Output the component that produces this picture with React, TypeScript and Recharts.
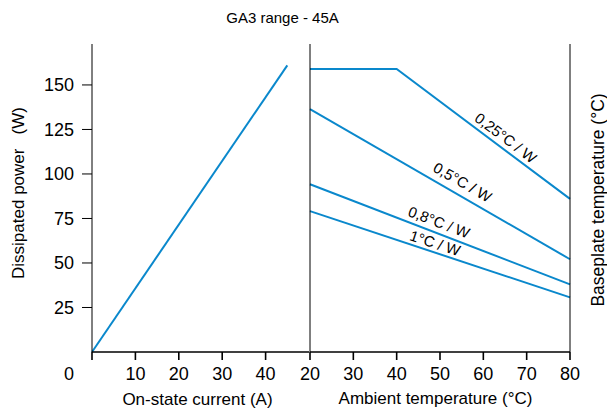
import { LineChart, Line, XAxis, YAxis, ReferenceDot } from "recharts"

const CURRENT_A = [0, 45]
const POWER_W = [0, 161]

const AMBIENT_C = [20, 40, 80]
const RTH_025 = [159, 159, 86]
const RTH_05 = [136.4, null, 52.1]
const RTH_08 = [94.2, null, 38]
const RTH_1 = [79.1, null, 30.7]

const POWER_TICKS = [25, 50, 75, 100, 125, 150]
const CURRENT_TICKS = [0, 10, 20, 30, 40]
const AMBIENT_TICKS = [20, 30, 40, 50, 60, 70, 80]

const RTH_NAMES = ["0,25°C / W", "0,5°C / W", "0,8°C / W", "1°C / W"]
const RTH_LABEL_X = [65.2, 55.2, 49.8, 48.9]
const RTH_LABEL_Y = [120.4, 95.5, 73.0, 61.3]
const RTH_LABEL_ANGLE = [37, 30, 21, 18]

const BLUE = "#0a88cc"
const FONT = "'Liberation Sans', Arial, sans-serif"

const leftData = CURRENT_A.map((a, i) => ({ a, p: POWER_W[i] }))
const rightData = AMBIENT_C.map((t, i) => ({
  t,
  r025: RTH_025[i],
  r05: RTH_05[i],
  r08: RTH_08[i],
  r1: RTH_1[i],
}))

// the "0" of the current axis sits left of the origin, like in the datasheet
function CurrentTick({ x, y, payload }: any) {
  const v = payload.value
  return (
    <text x={v === 0 ? x - 23 : x} y={y} dy="0.71em" textAnchor="middle" fontSize={18} fill="#000" fontFamily={FONT}>
      {v}
    </text>
  )
}

function tagLabel(text: string, angle: number) {
  return (props: any) => {
    const { x, y } = props.viewBox
    return (
      <text x={x} y={y} transform={`rotate(${angle}, ${x}, ${y})`} textAnchor="middle" dominantBaseline="central"
        fontSize={15} fill="#000" fontFamily={FONT}>
        {text}
      </text>
    )
  }
}

const tickStyle = { fill: "#000", fontSize: 18, fontFamily: FONT }

export default function App() {
  return (
    <div style={{ position: "absolute", left: 0, top: 0, width: 607, height: 414, background: "#fff", fontFamily: FONT, color: "#000" }}>
      <style>{".recharts-surface { overflow: visible; }"}</style>
      <div style={{ position: "absolute", left: 282.5, top: 17, transform: "translate(-50%, -50%)", fontSize: 15, whiteSpace: "nowrap" }}>
        GA3 range - 45A
      </div>

      <div style={{ position: "absolute", left: 0, top: 0, width: 309, height: 414 }}>
        <LineChart id="current-chart" width={309} height={414} data={leftData} margin={{ top: 44, right: 0, bottom: 32, left: 0 }}>
          <XAxis dataKey="a" type="number" domain={[0, 50]} ticks={CURRENT_TICKS} interval={0}
            stroke="#000" strokeWidth={1.6} tickSize={8} tickMargin={7} tick={<CurrentTick />} height={30} />
          <YAxis type="number" domain={[0, 173]} ticks={POWER_TICKS} interval={0} width={92}
            stroke="#000" tickSize={10} tickMargin={8} tick={tickStyle} />
          <Line dataKey="p" type="linear" stroke={BLUE} strokeWidth={2} dot={false} isAnimationActive={false} />
        </LineChart>
      </div>

      <div style={{ position: "absolute", left: 309, top: 0, width: 298, height: 414 }}>
        <LineChart id="ambient-chart" width={298} height={414} data={rightData} margin={{ top: 44, right: 36, bottom: 32, left: 0 }}>
          <XAxis dataKey="t" type="number" domain={[20, 80]} ticks={AMBIENT_TICKS} interval={0}
            stroke="#000" strokeWidth={1.6} tickSize={8} tickMargin={7} tick={tickStyle} height={30} />
          <YAxis yAxisId="l" type="number" domain={[0, 173]} width={1} tick={false} stroke="#000" />
          <YAxis yAxisId="r" orientation="right" type="number" domain={[0, 173]} width={1} tick={false} stroke="#000" />
          <Line yAxisId="l" dataKey="r025" type="linear" stroke={BLUE} strokeWidth={2} dot={false} connectNulls isAnimationActive={false} />
          <Line yAxisId="l" dataKey="r05" type="linear" stroke={BLUE} strokeWidth={2} dot={false} connectNulls isAnimationActive={false} />
          <Line yAxisId="l" dataKey="r08" type="linear" stroke={BLUE} strokeWidth={2} dot={false} connectNulls isAnimationActive={false} />
          <Line yAxisId="l" dataKey="r1" type="linear" stroke={BLUE} strokeWidth={2} dot={false} connectNulls isAnimationActive={false} />
          {RTH_NAMES.map((name, i) => (
            <ReferenceDot key={name} yAxisId="l" x={RTH_LABEL_X[i]} y={RTH_LABEL_Y[i]} r={0} fill="none" stroke="none"
              label={tagLabel(name, RTH_LABEL_ANGLE[i])} />
          ))}
        </LineChart>
      </div>

      <div style={{ position: "absolute", left: 197.5, top: 400, transform: "translate(-50%, -50%)", fontSize: 17, whiteSpace: "nowrap" }}>
        On-state current (A)
      </div>
      <div style={{ position: "absolute", left: 435.5, top: 399, transform: "translate(-50%, -50%)", fontSize: 17, whiteSpace: "nowrap" }}>
        Ambient temperature (°C)
      </div>
      <div style={{ position: "absolute", left: 18.5, top: 192.5, transform: "translate(-50%, -50%) rotate(-90deg)", fontSize: 17, whiteSpace: "pre" }}>
        {"Dissipated power   (W)"}
      </div>
      <div style={{ position: "absolute", left: 597.5, top: 200, transform: "translate(-50%, -50%) rotate(-90deg)", fontSize: 17.5, whiteSpace: "nowrap" }}>
        Baseplate temperature (°C)
      </div>
    </div>
  )
}
